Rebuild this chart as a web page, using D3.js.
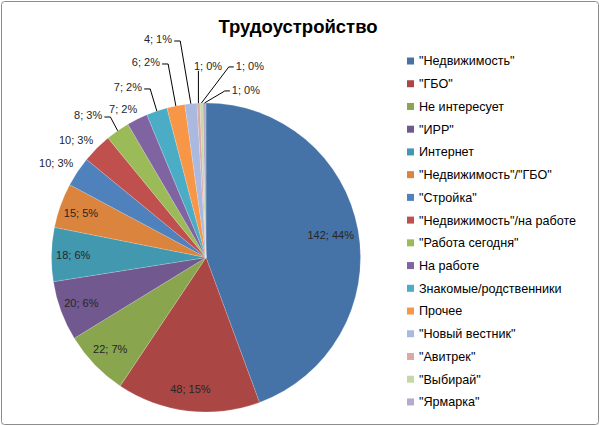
<!DOCTYPE html>
<html>
<head>
<meta charset="utf-8">
<script src="https://cdn.jsdelivr.net/npm/d3@7"></script>
<style>
  html, body { margin: 0; padding: 0; background: #fff; }
  svg { display: block; font-family: "Liberation Sans", Arial, sans-serif; }
</style>
</head>
<body>
<svg id="chart" width="600" height="426"></svg>
<script>
// данные диаграммы
const categories = [
  "\"Недвижимость\"", "\"ГБО\"", "Не интересует", "\"ИРР\"", "Интернет",
  "\"Недвижимость\"/\"ГБО\"", "\"Стройка\"", "\"Недвижимость\"/на работе",
  "\"Работа сегодня\"", "На работе", "Знакомые/родственники", "Прочее",
  "\"Новый вестник\"", "\"Авитрек\"", "\"Выбирай\"", "\"Ярмарка\""
];
const counts = [142, 48, 22, 20, 18, 15, 10, 10, 8, 7, 7, 6, 4, 1, 1, 1];
const percentLabels = ["44%", "15%", "7%", "6%", "6%", "5%", "3%", "3%", "3%", "2%", "2%", "2%", "1%", "0%", "0%", "0%"];
const colors = [
  "#4572A7", "#AA4643", "#89A54E", "#71588F", "#4198AF", "#DB843D",
  "#4F81BD", "#C0504D", "#9BBB59", "#8064A2", "#4BACC6", "#F79646",
  "#A9B9DF", "#DFA8A7", "#C6D8A5", "#B8AACB"
];
const title = "Трудоустройство";

// раскладка подписей для мелких секторов (угол в градусах, расстояние в радиусах)
const outsideLabels = {
  6: [302.2, 1.146], 7: [312.1, 1.133], 8: [320.4, 1.197], 9: [330.8, 1.100],
  10: [335.4, 1.214], 11: [342.9, 1.324], 12: [347.6, 1.448],
  13: [0.6, 1.240], 14: [12.9, 1.272], 15: [13.4, 1.115]
};

const width = 600, height = 426;
const cx = 206, cy = 257.5, radius = 154.5;

const svg = d3.select("#chart");

svg.append("rect")
  .attr("x", 1.5).attr("y", 1.5)
  .attr("width", width - 3).attr("height", height - 3)
  .attr("rx", 3)
  .attr("fill", "#fff")
  .attr("stroke", "#8c8c8c");

svg.append("text")
  .attr("x", 298)
  .attr("y", 33)
  .attr("text-anchor", "middle")
  .style("font-size", "18.5px")
  .style("font-weight", "bold")
  .attr("fill", "#000")
  .text(title);

const data = categories.map((c, i) => ({ name: c, value: counts[i], pct: percentLabels[i], color: colors[i] }));

const pie = d3.pie().sort(null).value(d => d.value);
const arcs = pie(data);
const arc = d3.arc().innerRadius(0).outerRadius(radius);

const g = svg.append("g").attr("transform", `translate(${cx},${cy})`);

g.selectAll("path")
  .data(arcs)
  .join("path")
  .attr("d", arc)
  .attr("fill", d => d.data.color)
  .attr("stroke", "rgba(255,255,255,0.35)")
  .attr("stroke-width", 0.5);

const labelFont = 11;
const polar = (angDeg, r) => {
  const a = angDeg * Math.PI / 180;
  return [Math.sin(a) * r, -Math.cos(a) * r];
};

const labels = g.append("g")
  .style("font-size", labelFont + "px")
  .attr("fill", "#262626");

arcs.forEach((d, i) => {
  const txt = `${d.data.value}; ${d.data.pct}`;
  const mid = (d.startAngle + d.endAngle) / 2 * 180 / Math.PI;
  if (!outsideLabels[i]) {
    const [x, y] = polar(mid, radius * (i === 0 ? 0.82 : 0.86));
    labels.append("text")
      .attr("x", x).attr("y", y)
      .attr("dy", "0.35em")
      .attr("text-anchor", "middle")
      .text(txt);
    return;
  }
  const [ang, rf] = outsideLabels[i];
  const [x, y] = polar(ang, radius * rf);
  const t = labels.append("text")
    .attr("x", x).attr("y", y)
    .attr("dy", "0.35em")
    .attr("text-anchor", "middle")
    .text(txt);
  const bb = t.node().getBBox();
  const [ex, ey] = polar(mid, radius);
  // расстояние от края сектора до подписи
  const ddx = Math.max(bb.x - ex, 0, ex - (bb.x + bb.width));
  const ddy = Math.max(bb.y - ey, 0, ey - (bb.y + bb.height));
  if (Math.hypot(ddx, ddy) < 12) return;
  let pts;
  if (ex >= bb.x && ex <= bb.x + bb.width) {
    pts = [[ex, bb.y + bb.height - 1], [ex, ey]];
  } else if (ex > bb.x + bb.width) {
    const sx = bb.x + bb.width + 2, sy = y + 2;
    pts = [[sx, sy], [sx + 6, sy], [ex, ey]];
  } else {
    const sx = bb.x - 2, sy = y + 1;
    pts = [[sx, sy], [sx - 5, sy], [ex, ey]];
  }
  labels.append("path")
    .attr("d", d3.line()(pts))
    .attr("fill", "none")
    .attr("stroke", "#000")
    .attr("stroke-width", 1);
});

// легенда
const legend = svg.append("g")
  .attr("transform", "translate(407,61)")
  .style("font-size", "12.6px");

const row = legend.selectAll("g")
  .data(data)
  .join("g")
  .attr("transform", (d, i) => `translate(0,${i * 22.73})`);

row.append("rect")
  .attr("x", 0).attr("y", -3.5)
  .attr("width", 7).attr("height", 7)
  .attr("fill", d => d.color);

row.append("text")
  .attr("x", 12)
  .attr("dy", "0.35em")
  .attr("fill", "#000")
  .text(d => d.name);
</script>
</body>
</html>
